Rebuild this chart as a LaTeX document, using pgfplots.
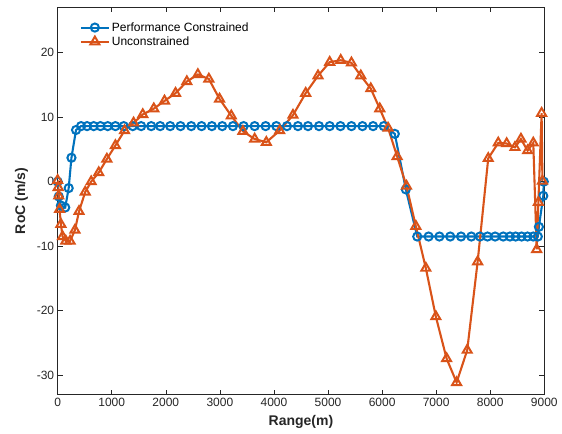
\documentclass[border=0pt]{standalone}
\usepackage{pgfplots}
\pgfplotsset{compat=1.18}
\usepackage{fontspec}
\setmainfont{Liberation Sans}
\definecolor{mblue}{RGB}{0,114,189}
\definecolor{morange}{RGB}{217,83,25}
\definecolor{mgray}{RGB}{38,38,38}
\begin{document}
\begin{tikzpicture}
\begin{axis}[
  name=ax,
  at={(0,0)}, anchor=south west,
  scale only axis,
  width=487bp, height=387.7bp,
  xmin=0, xmax=9000, ymin=-33, ymax=27,
  xtick={0,1000,...,9000},
  ytick={-30,-20,...,20},
  scaled x ticks=false,
  /pgf/number format/assume math mode=true,
  /pgf/number format/1000 sep={},
  tick align=inside,
  major tick length=5bp,
  axis line style={mgray, line width=0.6pt},
  every tick/.style={mgray, line width=0.6pt},
  tick label style={font=\fontsize{12bp}{14bp}\selectfont, text=mgray},
  xlabel={\bfseries Range(m)},
  ylabel={\bfseries RoC (m/s)},
  label style={font=\fontsize{14bp}{16bp}\selectfont, text=mgray},
  xlabel style={yshift=-2bp},
  ylabel style={yshift=2bp},
  legend style={draw=none, fill=none, at={(axis description cs:0,1)}, anchor=north west,
    xshift=20bp, yshift=-11bp, font=\fontsize{12bp}{14bp}\selectfont, text=black,
    row sep=0bp, inner sep=2bp},
  legend cell align=left,
  legend image code/.code={\draw[mark repeat=2,mark phase=2,#1] plot coordinates {(0bp,0bp) (14bp,0bp) (28bp,0bp)};},
]
\addplot[mblue, line width=2.1pt, mark=o, mark size=4.1pt, mark options={solid, line width=2pt}] coordinates {
(0,0)(20,-2.3)(60,-3.7)(140,-4)(204,-1)(255,3.7)(340,8)(433,8.6)(544,8.6)(667,8.6)(791,8.6)(926,8.6)(1068,8.6)(1222,8.6)(1389,8.6)(1544,8.6)(1730,8.6)(1896,8.6)(2081,8.6)(2272,8.6)(2470,8.6)(2661,8.6)(2852,8.6)(3044,8.6)(3241,8.6)(3439,8.6)(3643,8.6)(3846,8.6)(4044,8.6)(4241,8.6)(4444,8.6)(4630,8.6)(4833,8.6)(5031,8.6)(5230,8.6)(5433,8.6)(5637,8.6)(5833,8.6)(6031,8.6)(6235,7.4)(6439,-1.2)(6650,-8.5)(6860,-8.5)(7060,-8.5)(7260,-8.5)(7460,-8.5)(7650,-8.5)(7810,-8.5)(7950,-8.5)(8090,-8.5)(8240,-8.5)(8365,-8.5)(8470,-8.5)(8580,-8.5)(8690,-8.5)(8796,-8.5)(8880,-8.5)(8900,-7)(8981,-2.2)(8990,0)
};
\addlegendentry{Performance Constrained}
\addplot[morange, line width=2.1pt, mark=triangle, mark size=5.2pt, mark options={solid, line width=2pt}] coordinates {
(0,0.2)(10,-0.9)(20,-2.2)(35,-4.3)(60,-6.6)(90,-8.5)(150,-9.2)(230,-9.2)(320,-7.5)(395,-4.6)(510,-1.6)(620,0)(760,1.4)(910,3.5)(1068,5.6)(1237,7.9)(1404,9.1)(1574,10.4)(1778,11.3)(1976,12.5)(2180,13.7)(2389,15.5)(2593,16.6)(2796,15.9)(2994,12.8)(3211,10.2)(3426,7.8)(3643,6.6)(3859,6.1)(4106,7.9)(4352,10.3)(4587,13.7)(4815,16.4)(5031,18.5)(5235,18.8)(5433,18.4)(5606,16.4)(5791,14.4)(5957,11.3)(6111,8.3)(6278,3.9)(6452,-0.7)(6624,-6.9)(6809,-13.4)(6994,-20.9)(7193,-27.4)(7378,-31.1)(7574,-26.1)(7767,-12.4)(7963,3.6)(8148,6.0)(8304,5.9)(8457,5.3)(8568,6.6)(8691,4.8)(8796,6.0)(8859,-10.5)(8890,-3.2)(8950,10.6)(8965,0.1)
};
\addlegendentry{Unconstrained}
\end{axis}
\path (-57.7bp,-39bp) rectangle (504.7bp,395bp);
\end{tikzpicture}
\end{document}
